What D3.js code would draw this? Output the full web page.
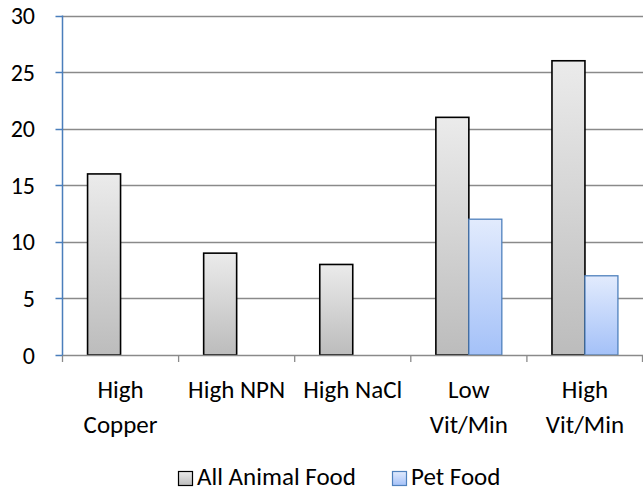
<!DOCTYPE html>
<html><head><meta charset="utf-8">
<script src="https://cdn.jsdelivr.net/npm/d3@7/dist/d3.min.js"></script>
<style>body{margin:0;background:#fff}svg{display:block}text{font-family:Carlito,"Open Sans","Liberation Sans",sans-serif;fill:#000}</style>
</head><body><svg id="c" width="643" height="492"></svg>
<script>
const categories = [["High","Copper"],["High NPN"],["High NaCl"],["Low","Vit/Min"],["High","Vit/Min"]];
const seriesNames = ["All Animal Food","Pet Food"];
const allAnimal = [16, 9, 8, 21, 26];
const petFood = [0, 0, 0, 12, 7];
const yTicks = [0,5,10,15,20,25,30];

const svg = d3.select("#c");
const mLeft = 62.5, mRight = 643, mTop = 15.5, mBottom = 355;
const defs = svg.append("defs");
const g1 = defs.append("linearGradient").attr("id","gGray").attr("x1",0).attr("y1",0).attr("x2",0).attr("y2",1);
g1.append("stop").attr("offset","0").attr("stop-color","#ebebeb");
g1.append("stop").attr("offset","1").attr("stop-color","#bcbcbc");
const g2 = defs.append("linearGradient").attr("id","gBlue").attr("x1",0).attr("y1",0).attr("x2",0).attr("y2",1);
g2.append("stop").attr("offset","0").attr("stop-color","#e2ebfd");
g2.append("stop").attr("offset","1").attr("stop-color","#a4c1f8");

const idx = categories.map((d,i)=>i);
const x = d3.scaleBand().domain(idx).range([mLeft, mRight]).paddingInner(0).paddingOuter(0);
const xs = d3.scaleBand().domain([0,1]).range([0, x.bandwidth()]).paddingInner(0).paddingOuter(0.76);
const y = d3.scaleLinear().domain([0,30]).range([mBottom, mTop]);

// gridlines
svg.append("g").selectAll("line").data(yTicks.filter(t=>t>0)).join("line")
  .attr("x1",mLeft).attr("x2",mRight).attr("y1",d=>Math.round(y(d))+0.5).attr("y2",d=>Math.round(y(d))+0.5)
  .attr("stroke","#8a8a8a").attr("stroke-width",1.3);

// bars
const series = [allAnimal, petFood];
const fills = ["url(#gGray)","url(#gBlue)"];
const strokes = ["#000","#4f81bd"];
series.forEach((vals, s) => {
  svg.append("g").selectAll("rect").data(vals.map((v,i)=>({v,i})).filter(d=>d.v>0)).join("rect")
    .attr("x", d=>x(d.i)+xs(s)).attr("width", xs.bandwidth())
    .attr("y", d=>y(d.v)).attr("height", d=>y(0)-y(d.v))
    .attr("fill", fills[s]).attr("stroke", strokes[s]).attr("stroke-width", s===0?1.6:1.3);
});

// x axis
const xAxis = svg.append("g");
xAxis.append("line").attr("x1",mLeft).attr("x2",mRight).attr("y1",mBottom+0.5).attr("y2",mBottom+0.5).attr("stroke","#8a8a8a").attr("stroke-width",1.3);
xAxis.selectAll("line.tk").data(idx.concat([idx.length])).join("line").attr("class","tk")
  .attr("x1",d=>d<idx.length?x(d):mRight-0.5).attr("x2",d=>d<idx.length?x(d):mRight-0.5)
  .attr("y1",mBottom).attr("y2",mBottom+7).attr("stroke","#8a8a8a").attr("stroke-width",1.3);
const labs = xAxis.selectAll("text").data(categories).join("text")
  .attr("text-anchor","middle").attr("font-size",25)
  .attr("x",(d,i)=>x(i)+x.bandwidth()/2).attr("y",397.5);
labs.selectAll("tspan").data(d=>d).join("tspan")
  .attr("x",function(){return this.parentNode.getAttribute("x");})
  .attr("dy",(d,i)=>i===0?0:35).text(d=>d);

// y axis
const yAxis = svg.append("g");
yAxis.append("line").attr("x1",mLeft).attr("x2",mLeft).attr("y1",mTop).attr("y2",mBottom).attr("stroke","#4a7ebb").attr("stroke-width",1.5);
yAxis.selectAll("line.tk").data(yTicks).join("line").attr("class","tk")
  .attr("x1",mLeft-7).attr("x2",mLeft).attr("y1",d=>Math.round(y(d))+0.5).attr("y2",d=>Math.round(y(d))+0.5)
  .attr("stroke","#4a7ebb").attr("stroke-width",1.5);
yAxis.selectAll("text").data(yTicks).join("text")
  .attr("x",35).attr("y",d=>y(d)+8.5).attr("text-anchor","end").attr("font-size",24).text(d=>d);

// legend
const leg = svg.append("g");
const legItems = [{n:seriesNames[0],x:178,f:fills[0],s:strokes[0]},{n:seriesNames[1],x:392,f:fills[1],s:strokes[1]}];
legItems.forEach(it=>{
  leg.append("rect").attr("x",it.x+0.5).attr("y",471.5).attr("width",14).attr("height",14).attr("fill",it.f).attr("stroke",it.s).attr("stroke-width",1.2);
  leg.append("text").attr("x",it.x+19).attr("y",485).attr("font-size",25).text(it.n);
});
</script></body></html>
